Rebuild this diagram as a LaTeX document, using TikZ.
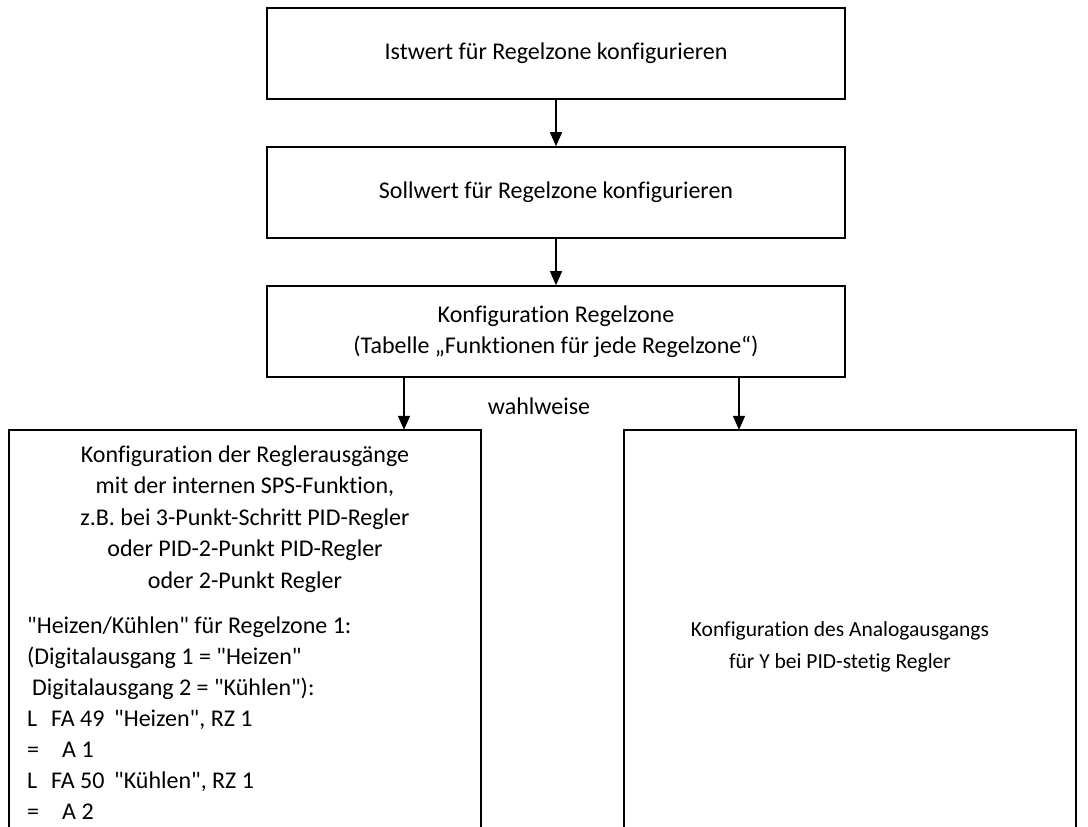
\documentclass[tikz,border=0pt]{standalone}
\usepackage{fontspec}
\newfontfamily\carl{Carlito}[Ligatures=NoCommon]
\usetikzlibrary{arrows.meta}
\tikzset{
  txt/.style={font=\carl\fontsize{24}{31.5}\selectfont, inner sep=0pt},
  smalltxt/.style={font=\carl\fontsize{21.5}{31.5}\selectfont, inner sep=0pt},
  boxx/.style={draw, line width=1.6pt, minimum width=578pt, minimum height=91pt, inner sep=0pt, align=center, txt},
  frame/.style={line width=1.6pt},
  arr/.style={line width=1.4pt, -{Triangle[length=14pt,width=12pt]}},
}
\begin{document}
\begin{tikzpicture}[x=1pt,y=-1pt]
\useasboundingbox[fill=white] (0,0) rectangle (1088,827);
\clip (0,0) rectangle (1088,827);
\node[boxx] (I) at (556,53.5) {Istwert für Regelzone konfigurieren};
\node[boxx] (S) at (556,192.5) {Sollwert für Regelzone konfigurieren};
\node[boxx] (K) at (556,331.5) {Konfiguration Regelzone\\(Tabelle „Funktionen für jede Regelzone“)};
% open-bottom boxes
\node[minimum width=472pt, minimum height=410pt, inner sep=0pt] (L) at (245,635) {};
\node[minimum width=452pt, minimum height=410pt, inner sep=0pt] (R) at (850,635) {};
\draw[frame] (L.south west) -- (L.north west) -- (L.north east) -- (L.south east);
\draw[frame] (R.south west) -- (R.north west) -- (R.north east) -- (R.south east);
% arrows
\draw[arr] (I.south) -- (S.north);
\draw[arr] (S.south) -- (K.north);
\draw[arr] ([xshift=-152pt]K.south) -- ([xshift=-152pt]K.south |- L.north);
\draw[arr] ([xshift=183pt]K.south) -- ([xshift=183pt]K.south |- R.north);
\node[txt] (w) at (539,406) {wahlweise};
% left box text
\node[txt, align=center] (lc) at (245,519) {Konfiguration der Reglerausgänge\\mit der internen SPS-Funktion,\\z.B. bei 3-Punkt-Schritt PID-Regler\\oder PID-2-Punkt PID-Regler\\oder 2-Punkt Regler};
\node[txt, anchor=base west] (t1) at (27,633) {"Heizen/Kühlen" für Regelzone 1:};
\node[txt, anchor=base west] (t2) at (27,664) {(Digitalausgang 1 = "Heizen"};
\node[txt, anchor=base west] (t3) at (32,695) {Digitalausgang 2 = "Kühlen"):};
\node[txt, anchor=base west] (t4) at (27,726) {L};
\node[txt, anchor=base west] (t4b) at (51,726) {FA 49};
\node[txt, anchor=base west] (t4c) at (114,726) {"Heizen", RZ 1};
\node[txt, anchor=base west] (t5) at (27,757) {=};
\node[txt, anchor=base west] (t5b) at (62,757) {A 1};
\node[txt, anchor=base west] (t6) at (27,788) {L};
\node[txt, anchor=base west] (t6b) at (51,788) {FA 50};
\node[txt, anchor=base west] (t6c) at (114,788) {"Kühlen", RZ 1};
\node[txt, anchor=base west] (t7) at (27,819) {=};
\node[txt, anchor=base west] (t7b) at (62,819) {A 2};
% right box text
\node[smalltxt, align=center] (rc) at (840,647) {Konfiguration des Analogausgangs\\für Y bei PID-stetig Regler};
\end{tikzpicture}
\end{document}
